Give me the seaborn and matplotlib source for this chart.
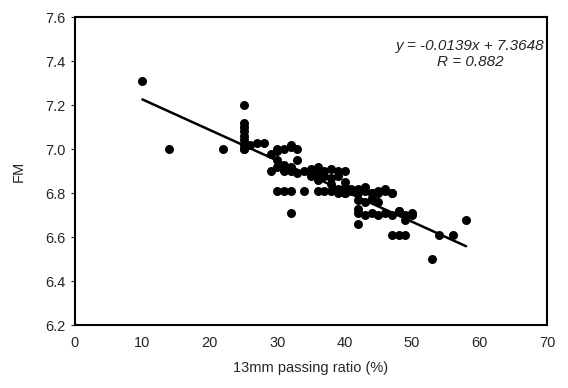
import numpy as np
import pandas as pd
import matplotlib.pyplot as plt
import seaborn as sns

# puntos (13mm passing ratio %, FM)
passing = [10, 14, 22,
           25, 25, 25, 25, 25, 25, 25, 25, 25,
           26, 27, 28, 29, 30, 30, 31, 32, 32, 33,
           29, 30, 30, 31, 31, 32, 32, 33, 33,
           30, 31, 32, 34, 36, 37, 38, 39, 40, 41, 42, 43, 44, 45, 46, 47,
           32,
           34, 35, 35, 36, 36, 36, 37, 37, 38, 38, 39, 39, 40, 40,
           38, 39, 40, 41, 40,
           42, 43, 44, 45, 46, 47,
           42, 43, 44, 45, 42,
           42, 43, 44, 45, 46, 47, 48, 49, 50,
           42, 47, 48, 49, 49, 50, 48,
           53, 54, 56, 58]
fm = [7.31, 7.00, 7.00,
      7.20, 7.12, 7.10, 7.08, 7.06, 7.04, 7.02, 7.00, 7.00,
      7.02, 7.03, 7.03, 6.98, 6.99, 7.00, 7.00, 7.02, 7.01, 7.00,
      6.90, 6.92, 6.95, 6.93, 6.90, 6.90, 6.92, 6.89, 6.95,
      6.81, 6.81, 6.81, 6.81, 6.81, 6.81, 6.81, 6.80, 6.80, 6.81, 6.80, 6.81, 6.80, 6.81, 6.81, 6.80,
      6.71,
      6.90, 6.91, 6.88, 6.92, 6.89, 6.86, 6.88, 6.90, 6.87, 6.91, 6.88, 6.90, 6.90, 6.85,
      6.84, 6.82, 6.80, 6.82, 6.83,
      6.82, 6.83, 6.80, 6.80, 6.82, 6.80,
      6.77, 6.76, 6.78, 6.76, 6.73,
      6.71, 6.70, 6.71, 6.70, 6.71, 6.70, 6.72, 6.70, 6.71,
      6.66, 6.61, 6.61, 6.61, 6.68, 6.70, 6.72,
      6.50, 6.61, 6.61, 6.68]

# recta de regresion impresa en el grafico
slope = -0.0139
intercept = 7.3648
r_value = 0.882

df = pd.DataFrame({"passing": passing, "fm": fm})
x_fit = np.array([min(passing), max(passing)])
fit = pd.DataFrame({"passing": x_fit, "fm": slope * x_fit + intercept})

sns.set_style("white")
plt.rcParams["font.family"] = ["Liberation Sans", "DejaVu Sans"]

fig = plt.figure(figsize=(5.68, 3.88), dpi=100)
ax = fig.add_axes([0.132, 0.162, 0.831, 0.794])

sns.scatterplot(data=df, x="passing", y="fm", color="black", s=42,
                edgecolor=None, linewidth=0, ax=ax)
sns.lineplot(data=fit, x="passing", y="fm", color="black", linewidth=1.8, ax=ax)

ax.set_xlim(0, 70)
ax.set_ylim(6.2, 7.6)
ax.set_xticks(range(0, 71, 10))
ax.set_yticks(np.arange(6.2, 7.61, 0.2))
ax.yaxis.set_major_formatter(plt.FuncFormatter(lambda v, loc: f"{v:.1f}"))

ax.set_xlabel("13mm passing ratio (%)", fontsize=10.5, labelpad=8)
ax.set_ylabel("FM", fontsize=10.5, labelpad=14)
ax.tick_params(axis="both", labelsize=10.5)
ax.tick_params(axis="x", direction="in", length=3, pad=8)
ax.tick_params(axis="y", direction="out", length=3, left=True)

for sp in ax.spines.values():
    sp.set_color("black")
    sp.set_linewidth(1.5)

ax.text(0.838, 0.905, f"y = {slope}x + {intercept}", transform=ax.transAxes,
        ha="center", va="center", fontsize=11, style="italic")
ax.text(0.838, 0.855, f"R = {r_value}", transform=ax.transAxes,
        ha="center", va="center", fontsize=11, style="italic")

fig.savefig("out.png", dpi=100)
